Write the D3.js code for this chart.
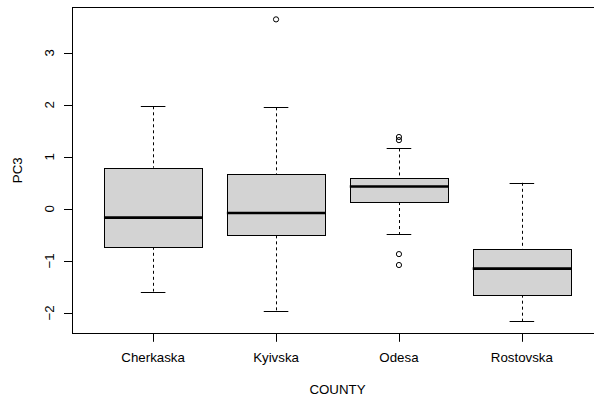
<!DOCTYPE html>
<html><head><meta charset="utf-8">
<script src="https://cdn.jsdelivr.net/npm/d3@7"></script>
<style>body{margin:0;background:#fff}svg{display:block}text{font-family:"Liberation Sans",Arial,sans-serif;fill:#000}</style>
</head><body><svg id="c" width="594" height="397"></svg>
<script>
const categories = ["Cherkaska","Kyivska","Odesa","Rostovska"];
const whiskerLow  = [-1.59, -1.96, -0.49, -2.16];
const q1          = [-0.73, -0.51,  0.13, -1.65];
const median      = [-0.17, -0.08,  0.43, -1.15];
const q3          = [ 0.79,  0.66,  0.59, -0.77];
const whiskerHigh = [ 1.97,  1.95,  1.16,  0.50];
const outliers    = [[], [3.64], [1.38, 1.32, -0.87, -1.08], []];
const yTicks = [-2,-1,0,1,2,3];
const xTitle = "COUNTY", yTitle = "PC3";

const svg = d3.select("#c");
const L = 72, R = 603, T = 7.3, B = 333.3;
const FS = 13.3;
const allVals = whiskerLow.concat(whiskerHigh, outliers.flat());
const lo = d3.min(allVals), hi = d3.max(allVals), pad = (hi-lo)*0.04;
const y = d3.scaleLinear().domain([lo-pad, hi+pad]).range([B, T]);
const x = d3.scaleLinear().domain([0.34, 4.66]).range([L, R]);
const bw = (x(1.4)-x(1)), sw = bw/2;
const px = v => Math.round(v)+0.5;

const g = svg.append("g");
categories.forEach((c,i)=>{
  const cx = x(i+1);
  g.append("line").attr("x1",px(cx)).attr("x2",px(cx)).attr("y1",y(whiskerHigh[i])).attr("y2",y(q3[i]))
    .attr("stroke","#000").attr("stroke-dasharray","3,3");
  g.append("line").attr("x1",px(cx)).attr("x2",px(cx)).attr("y1",y(q1[i])).attr("y2",y(whiskerLow[i]))
    .attr("stroke","#000").attr("stroke-dasharray","3,3");
  [whiskerHigh[i], whiskerLow[i]].forEach(v=>{
    g.append("line").attr("x1",cx-sw/2).attr("x2",cx+sw/2).attr("y1",px(y(v))).attr("y2",px(y(v))).attr("stroke","#000");
  });
  g.append("rect").attr("x",px(cx-bw)).attr("width",Math.round(2*bw))
    .attr("y",px(y(q3[i]))).attr("height",Math.round(y(q1[i])-y(q3[i])))
    .attr("fill","#d3d3d3").attr("stroke","#000");
  g.append("line").attr("x1",cx-bw).attr("x2",cx+bw).attr("y1",y(median[i])).attr("y2",y(median[i]))
    .attr("stroke","#000").attr("stroke-width",2.6);
  outliers[i].forEach(v=>{
    g.append("circle").attr("cx",cx).attr("cy",y(v)).attr("r",2.6).attr("fill","none").attr("stroke","#000");
  });
});

svg.append("rect").attr("x",px(L)).attr("y",px(T)).attr("width",Math.round(R-L)).attr("height",Math.round(B-T))
  .attr("fill","none").attr("stroke","#000");

const ya = svg.append("g");
ya.append("line").attr("x1",px(L)).attr("x2",px(L)).attr("y1",y(yTicks[0])).attr("y2",y(yTicks[yTicks.length-1])).attr("stroke","#000");
yTicks.forEach(t=>{
  ya.append("line").attr("x1",L-8).attr("x2",px(L)).attr("y1",px(y(t))).attr("y2",px(y(t))).attr("stroke","#000");
  ya.append("text").attr("transform",`translate(49.5,${y(t)}) rotate(-90)`).attr("text-anchor","middle")
    .attr("dominant-baseline","central").attr("font-size",FS).text(String(t).replace("-","\u2212"));
});
const xa = svg.append("g");
xa.append("line").attr("x1",x(1)).attr("x2",x(4)).attr("y1",px(B)).attr("y2",px(B)).attr("stroke","#000");
categories.forEach((c,i)=>{
  xa.append("line").attr("x1",px(x(i+1))).attr("x2",px(x(i+1))).attr("y1",px(B)).attr("y2",B+8.5).attr("stroke","#000");
  xa.append("text").attr("x",x(i+1)).attr("y",357.5).attr("text-anchor","middle").attr("dominant-baseline","central")
    .attr("font-size",FS).text(c);
});
svg.append("text").attr("x",(L+R)/2).attr("y",389).attr("text-anchor","middle").attr("dominant-baseline","central")
  .attr("font-size",FS).text(xTitle);
svg.append("text").attr("transform",`translate(17.5,${(T+B)/2}) rotate(-90)`).attr("text-anchor","middle")
  .attr("dominant-baseline","central").attr("font-size",FS).text(yTitle);
</script></body></html>
